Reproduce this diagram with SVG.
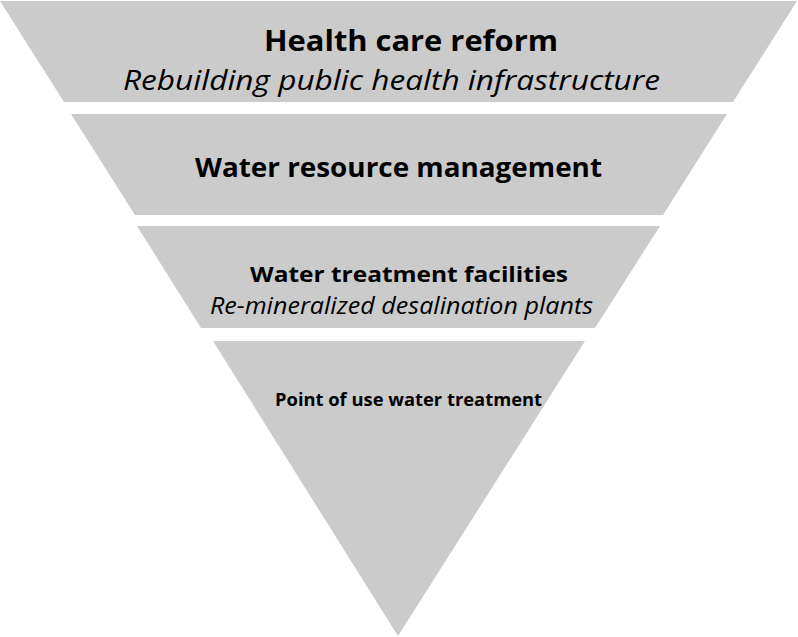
<svg xmlns="http://www.w3.org/2000/svg" width="798" height="637" viewBox="0 0 798 637">
<style>
.band{fill:#cbcbcb;}
.b{font-family:"Open Sans","Liberation Sans",sans-serif;font-weight:bold;fill:#000;}
.i{font-family:"Open Sans","Liberation Sans",sans-serif;font-style:italic;fill:#000;}
</style>
<rect width="798" height="637" fill="#fff"/>
<g id="level1">
<polygon class="band" points="0,1 797,1 733,102 64,102"/>
<text class="b" x="264" y="51" font-size="28" textLength="294" lengthAdjust="spacingAndGlyphs">Health care reform</text>
<text class="i" x="123" y="90" font-size="28" textLength="537" lengthAdjust="spacingAndGlyphs">Rebuilding public health infrastructure</text>
</g>
<g id="level2">
<polygon class="band" points="71,114 727,114 663,215 135,215"/>
<text class="b" x="195" y="177" font-size="27" textLength="407" lengthAdjust="spacingAndGlyphs">Water resource management</text>
</g>
<g id="level3">
<polygon class="band" points="137,226 660,226 595,328 201,328"/>
<text class="b" x="250" y="282" font-size="22" textLength="318" lengthAdjust="spacingAndGlyphs">Water treatment facilities</text>
<text class="i" x="210" y="314" font-size="24" textLength="383" lengthAdjust="spacingAndGlyphs">Re-mineralized desalination plants</text>
</g>
<g id="level4">
<polygon class="band" points="213,341 585,341 398,636"/>
<text class="b" x="275" y="406" font-size="17" textLength="267" lengthAdjust="spacingAndGlyphs">Point of use water treatment</text>
</g>
<g id="connectors"/>
</svg>
